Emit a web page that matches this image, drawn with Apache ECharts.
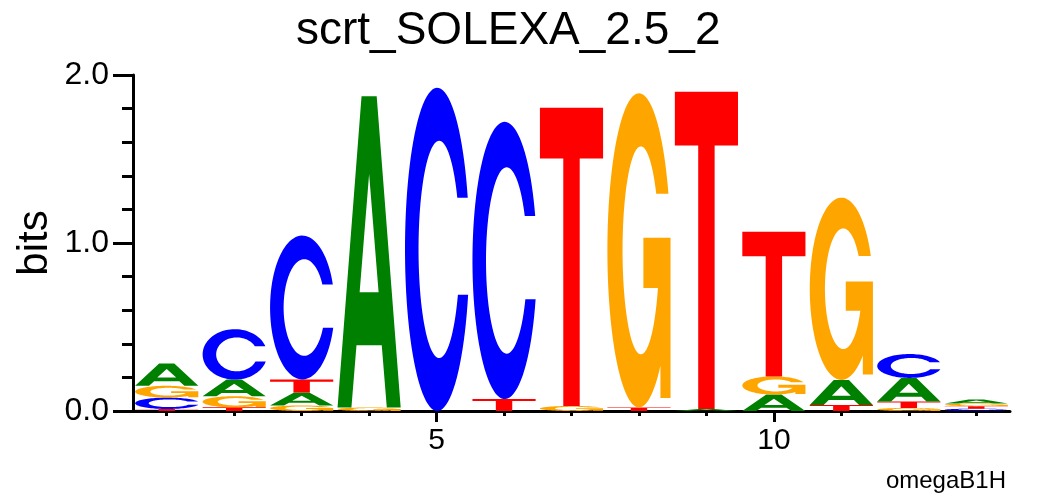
<!DOCTYPE html>
<html>
<head>
<meta charset="utf-8">
<script src="https://cdn.jsdelivr.net/npm/echarts@6/dist/echarts.min.js"></script>
<style>
html,body{margin:0;padding:0;background:#fff;}
#chart{width:1058px;height:496px;}
</style>
</head>
<body>
<div id="chart"></div>
<script>
// ---- data (bits per letter at each position) ----
const positions = [1,2,3,4,5,6,7,8,9,10,11,12,13];
const letters = ['A','C','G','T'];
const bitsA = [0.133, 0.099, 0.077, 1.853, 0,     0,     0,     0,     0.012, 0.098, 0.149, 0.140, 0.023];
const bitsC = [0.068, 0.300, 0.856, 0,     1.924, 1.650, 0,     0,     0,     0,     0,     0.142, 0.014];
const bitsG = [0.070, 0.066, 0.033, 0.021, 0,     0,     0.030, 1.870, 0,     0.108, 1.085, 0.018, 0.016];
const bitsT = [0.012, 0.022, 0.078, 0,     0,     0.071, 1.775, 0.021, 1.889, 0.861, 0.036, 0.039, 0.015];
const xTickLabels = [5, 10];
const yTickValues = [0, 1, 2];
const yTickLabels = ['0.0', '1.0', '2.0'];
const titleText = 'scrt_SOLEXA_2.5_2';
const yName = 'bits';
const footText = 'omegaB1H';

// ---- glyph outlines (unit box 0..100) ----
function ell(cx, cy, rx, ry, a0, a1, n) {
  const pts = [];
  for (let i = 0; i <= n; i++) {
    const a = a0 + (a1 - a0) * i / n;
    pts.push([cx + rx * Math.cos(a), cy + ry * Math.sin(a)]);
  }
  return pts;
}
function toPath(pts) {
  return 'M' + pts.map(p => p[0].toFixed(2) + ' ' + p[1].toFixed(2)).join(' L') + ' Z';
}
const pathA = 'M0 100 L38 0 L62 0 L100 100 L78 100 L70 80 L30 80 L22 100 Z M35 63 L65 63 L50 25 Z';
const pathT = 'M0 0 L100 0 L100 17 L63 17 L63 100 L37 100 L37 17 L0 17 Z';
const pathC = (function () {
  const o = ell(50, 50, 50, 50, -Math.asin(0.32), Math.asin(0.28) - 2 * Math.PI, 90);
  const i = ell(53, 50, 32, 33.6, Math.asin(14 / 33.6), 2 * Math.PI - Math.asin(16 / 33.6), 90);
  return toPath(o.concat(i));
})();
const pathG = (function () {
  const o = ell(50, 50, 50, 50, -Math.asin(0.36), Math.acos(0.68) - 2 * Math.PI, 90);
  const mid = [[84, 97], [100, 97], [100, 46], [57, 46], [57, 62]];
  const i = ell(53, 50, 29, 33.1, Math.asin(12 / 33.1), 2 * Math.PI - Math.asin(18 / 33.1), 90);
  return toPath(o.concat(mid, i));
})();
const glyphs = [pathA, pathC, pathG, pathT];
const colors = ['#008000', '#0000ff', '#ffa500', '#ff0000'];

// ---- stacked letter boxes ----
const stackData = [];
positions.forEach((p, k) => {
  const h = [bitsA[k], bitsC[k], bitsG[k], bitsT[k]];
  const order = [0, 1, 2, 3].sort((a, b) => h[a] - h[b]);
  let y = 0;
  order.forEach(li => {
    if (h[li] > 0) {
      stackData.push([p, li, y, y + h[li]]);
      y += h[li];
    }
  });
});

const FONT = "'Liberation Sans', Arial, Helvetica, sans-serif";
const chart = echarts.init(document.getElementById('chart'), null, {renderer: 'canvas'});
chart.setOption({
  animation: false,
  backgroundColor: '#ffffff',
  title: {
    text: titleText,
    left: 291, top: 3,
    textStyle: {fontFamily: FONT, fontSize: 46, fontWeight: 'normal', color: '#000'}
  },
  grid: {left: 133, right: 48, top: 75, bottom: 85, containLabel: false},
  xAxis: [{
    type: 'value', min: 0.5, max: 13.5, position: 'bottom',
    axisLine: {show: true, onZero: false, lineStyle: {color: '#000', width: 3}},
    axisTick: {show: true, customValues: positions, length: 5, lineStyle: {color: '#000', width: 3}},
    axisLabel: {show: true, customValues: xTickLabels, fontSize: 30, color: '#000', margin: 15, fontFamily: FONT},
    splitLine: {show: false}
  }, {
    type: 'value', min: 0.5, max: 13.5, position: 'bottom',
    axisLine: {show: false, onZero: false},
    axisTick: {show: true, customValues: xTickLabels, length: 11, lineStyle: {color: '#000', width: 3}},
    axisLabel: {show: false},
    splitLine: {show: false}
  }],
  yAxis: {
    type: 'value', min: 0, max: 2, interval: 1,
    axisLine: {show: true, lineStyle: {color: '#000', width: 3}},
    axisTick: {show: true, length: 20, lineStyle: {color: '#000', width: 3}},
    minorTick: {show: true, splitNumber: 5, length: 11, lineStyle: {color: '#000', width: 3}},
    axisLabel: {
      fontSize: 32, color: '#000', margin: 24, fontFamily: FONT,
      formatter: v => yTickLabels[yTickValues.indexOf(v)]
    },
    splitLine: {show: false}
  },
  graphic: [{
    type: 'text', x: 35, y: 243, rotation: Math.PI / 2,
    style: {text: yName, font: '42px ' + FONT, fill: '#000', textAlign: 'center', textVerticalAlign: 'middle'}
  }, {
    type: 'text', x: 1006, y: 481,
    style: {text: footText, font: '24px ' + FONT, fill: '#000', textAlign: 'right', textVerticalAlign: 'middle'}
  }],
  series: [{
    type: 'custom',
    xAxisIndex: 0, yAxisIndex: 0,
    data: stackData,
    encode: {x: 0, y: 3},
    clip: false,
    renderItem: function (params, api) {
      const pos = api.value(0), li = api.value(1), y0 = api.value(2), y1 = api.value(3);
      const p0 = api.coord([pos - 0.468, y1]);
      const p1 = api.coord([pos + 0.468, y0]);
      return {
        type: 'path',
        shape: {pathData: glyphs[li], layout: 'cover', x: p0[0], y: p0[1], width: p1[0] - p0[0], height: Math.max(0.5, p1[1] - p0[1])},
        style: {fill: colors[li]}
      };
    }
  }]
});
</script>
</body>
</html>
